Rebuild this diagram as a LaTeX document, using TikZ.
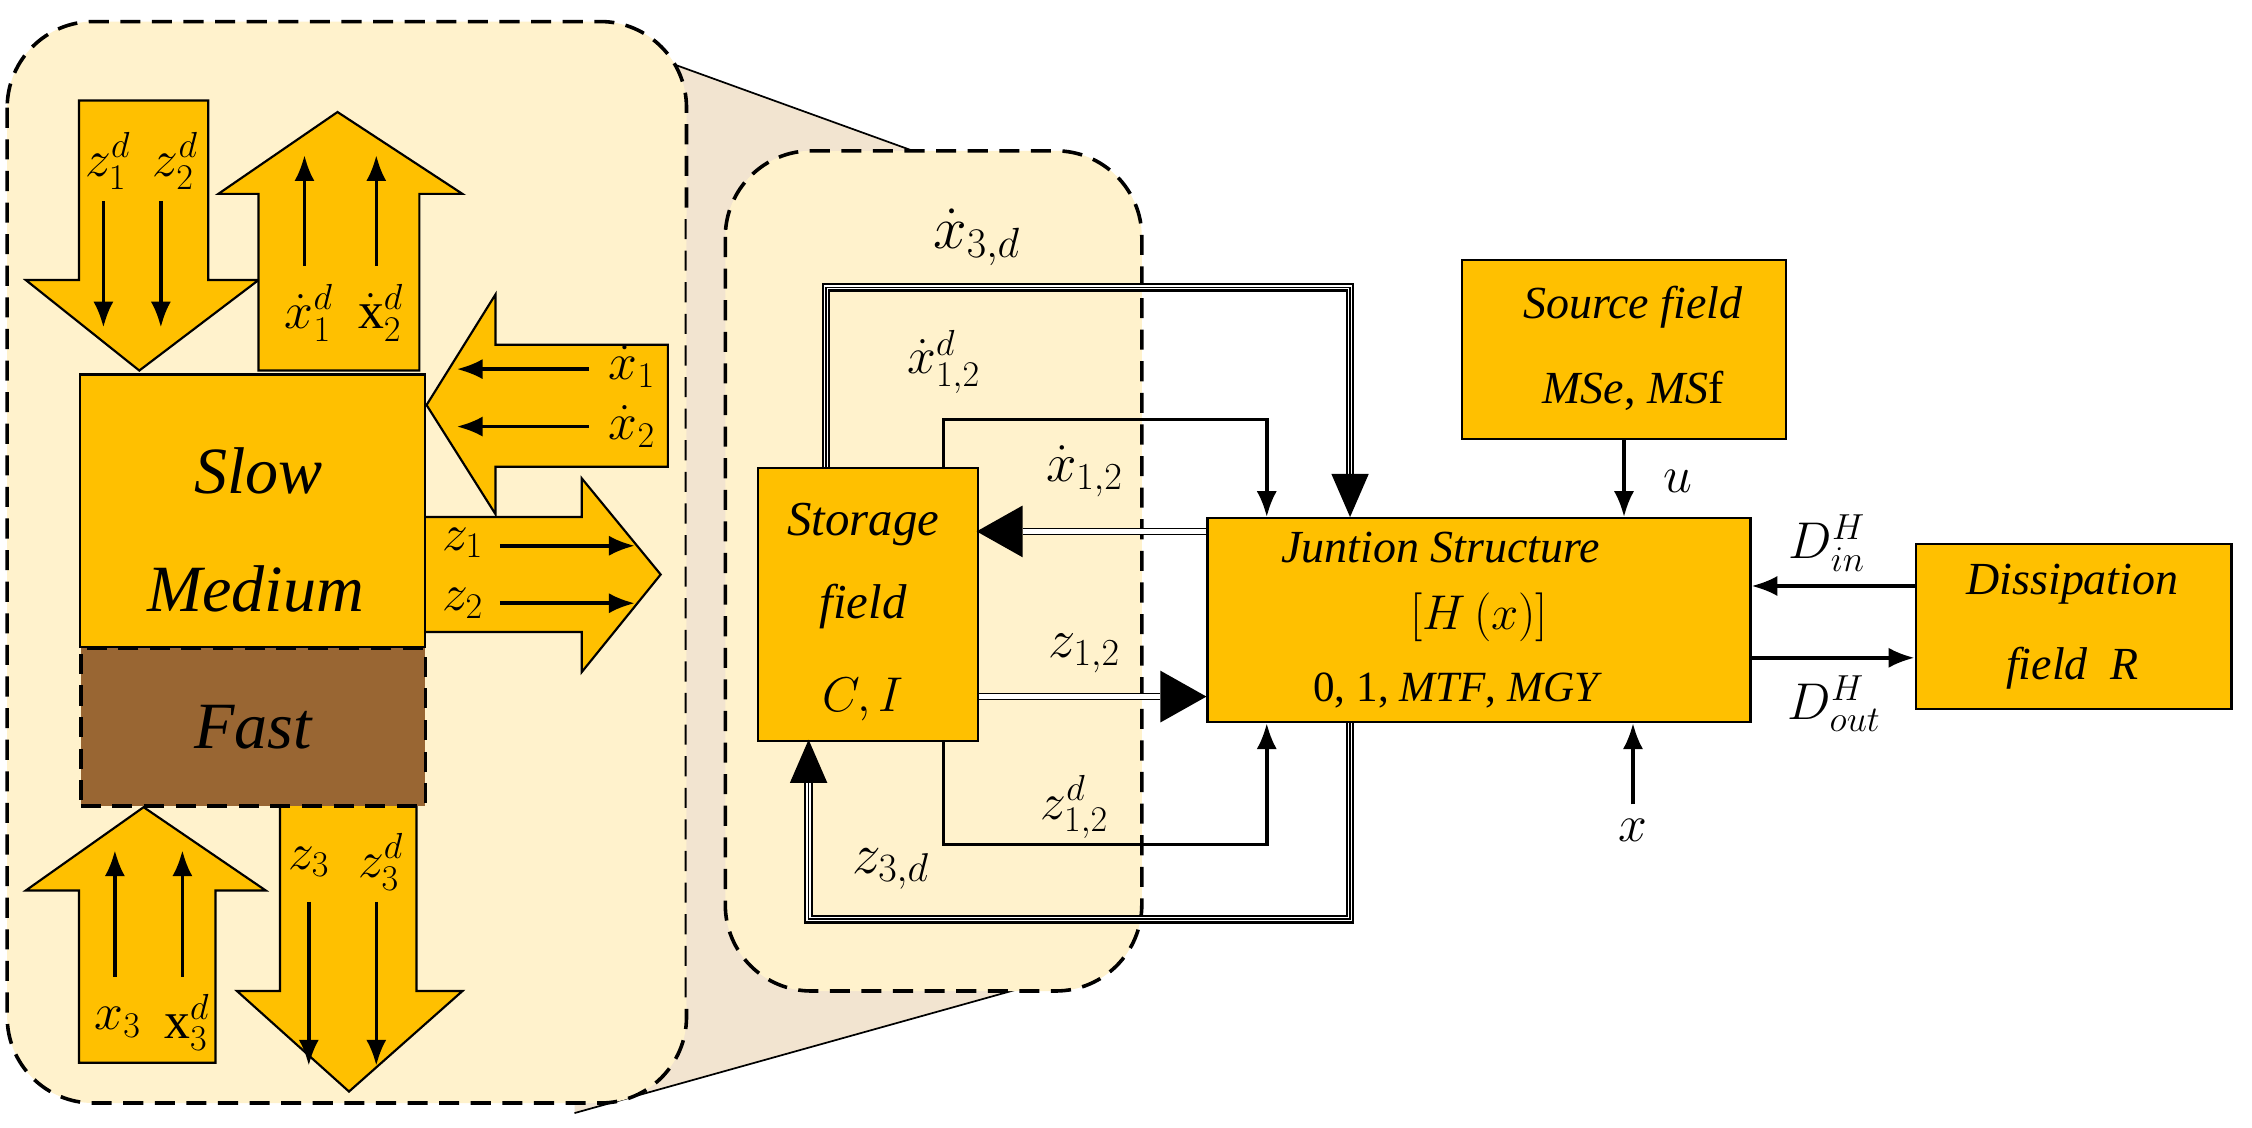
\RequirePackage{fix-cm}
\documentclass[tikz,border=0pt]{standalone}
\usepackage{fontspec}
\setmainfont{Liberation Serif}
\usetikzlibrary{arrows.meta}
\definecolor{lite}{RGB}{255,242,204}
\definecolor{wedge}{RGB}{242,228,208}
\definecolor{gold}{RGB}{255,192,0}
\definecolor{brn}{RGB}{153,102,51}
\newcommand{\fz}[1]{\fontsize{#1}{#1}\selectfont}
\begin{document}
\begin{tikzpicture}[x=1pt,y=-1pt,
  box/.style={draw,line width=1.5pt,fill=gold,inner sep=0},
  dsh/.style={line width=2.5pt,dash pattern=on 14pt off 8pt},
  dbox/.style={draw,dsh,rounded corners=60},
  blk/.style={draw,line width=1.5pt,fill=gold},
  thin/.style={line width=2.5pt,-{Latex[length=18,width=14]}},
  lab/.style={font=\fz{40}\itshape},
  ml/.style={font=\fz{36}},
  tri/.style={line width=6pt},
  trw/.style={line width=3pt,white},
  trc/.style={line width=1pt}]
\useasboundingbox (0,0) rectangle (1568,785);
% wedge
\fill[wedge] (420,27) -- (760,150) -- (740,680) -- (400,775) -- cycle;
\draw[line width=1.2pt] (420,27) -- (760,150) (400,775) -- (740,680);
\draw[dbox,fill=lite] (5,15) rectangle (478,768);
\fill[wedge] (478,150) -- (760,150) -- (740,680) -- (478,700) -- cycle;
\draw[dbox,fill=lite] (505,105) rectangle (795,690);
% left block arrows
\draw[blk] (55,70) -- (145,70) -- (145,195) -- (180,195) -- (97,258) -- (18,195) -- (55,195) -- cycle;
\draw[blk] (180,258) -- (180,135) -- (152,135) -- (235,78) -- (322,135) -- (292,135) -- (292,258) -- cycle;
\draw[blk] (465,240) -- (345,240) -- (345,205) -- (297,282) -- (345,358) -- (345,325) -- (465,325) -- cycle;
\draw[blk] (295,360) -- (405,360) -- (405,333) -- (460,400) -- (405,468) -- (405,440) -- (295,440) -- cycle;
\draw[blk] (55,740) -- (55,620) -- (18,620) -- (100,562) -- (185,620) -- (150,620) -- (150,740) -- cycle;
\draw[blk] (195,560) -- (290,560) -- (290,690) -- (322,690) -- (243,760) -- (165,690) -- (195,690) -- cycle;
\node[box,minimum width=240,minimum height=190,anchor=north west] (slow) at (55,260) {};
\node[lab,font=\fz{46}\itshape] at (180,328) {Slow};
\node[lab,font=\fz{46}\itshape] at (178,410) {Medium};
\node[draw,dsh,fill=brn,minimum width=240,minimum height=110,anchor=north west,font=\fz{46}\itshape] (fast) at (55,450) {Fast};
% labels and thin arrows on block arrows
\node[ml] at (75,112) {$z_1^d$}; \node[ml] at (122,112) {$z_2^d$};
\draw[thin] (72,140) -- (72,228); \draw[thin] (112,140) -- (112,228);
\node[ml] at (215,218) {$\dot x_1^d$}; \node[ml] at (265,218) {$\dot{\mathrm{x}}_2^d$};
\draw[thin] (212,185) -- (212,108); \draw[thin] (262,185) -- (262,108);
\node[ml] at (440,255) {$\dot x_1$}; \node[ml] at (440,297) {$\dot x_2$};
\draw[thin] (410,257) -- (318,257); \draw[thin] (410,297) -- (318,297);
\node[ml] at (322,378) {$z_1$}; \node[ml] at (322,420) {$z_2$};
\draw[thin] (348,380) -- (442,380); \draw[thin] (348,420) -- (442,420);
\node[ml] at (82,712) {$x_3$}; \node[ml] at (130,712) {$\mathrm{x}_3^d$};
\draw[thin] (80,680) -- (80,592); \draw[thin] (127,680) -- (127,592);
\node[ml] at (215,600) {$z_3$}; \node[ml] at (265,600) {$z_3^d$};
\draw[thin] (215,628) -- (215,742); \draw[thin] (262,628) -- (262,742);
% right part nodes
\node[box,minimum width=153,minimum height=190,anchor=north west] (st) at (527,325) {};
\node[lab,font=\fz{34}\itshape] at (601,365) {Storage};
\node[lab,font=\fz{34}\itshape] at (601,422) {field};
\node[ml,font=\fz{34}] at (601,487) {$C,I$};
\node[box,minimum width=378,minimum height=142,anchor=north west] (js) at (840,360) {};
\node[lab,font=\fz{32}\itshape] at (1003,381) {Juntion Structure};
\node[ml,font=\fz{34}] at (1030,430) {$\left[H\left(x\right)\right]$};
\node[font=\fz{30}] at (1015,481) {0, 1, \textit{MTF}, \textit{MGY}};
\node[box,minimum width=226,minimum height=125,anchor=north west] (src) at (1017,180) {};
\node[lab,font=\fz{32}\itshape] at (1137,214) {Source field};
\node[font=\fz{32}] at (1137,272) {\textit{MSe}, \textit{MS}f};
\node[box,minimum width=220,minimum height=115,anchor=north west] (dis) at (1333,378) {};
\node[lab,font=\fz{32}\itshape] at (1443,407) {Dissipation};
\node[lab,font=\fz{32}\itshape] at (1443,465) {field~~R};
% single arrows
\draw[thin] (src.south) -- (js.north -| src.south); \node[ml] at (1168,335) {$u$};
\coordinate (xs) at (1137,560);
\draw[thin] (xs) -- (js.south -| xs); \node[ml] at (1137,578) {$x$};
\draw[thin] (dis.west |- 0,408) -- (js.east |- 0,408); \node[ml] at (1272,378) {$D_{in}^H$};
\draw[thin] (js.east |- 0,458) -- (dis.west |- 0,458); \node[ml] at (1277,490) {$D_{out}^H$};
\draw[thin] (st.north -| 657,0) -- (657,292) -- (882,292) -- (js.north -| 882,0);
\draw[thin] (st.south -| 657,0) -- (657,588) -- (882,588) -- (js.south -| 882,0);
\node[ml] at (657,252) {$\dot x_{1,2}^d$};
\node[ml] at (748,562) {$z_{1,2}^d$};
% triple lines
\foreach \s in {tri,trw,trc}{
 \draw[\s] (st.north -| 575,0) -- (575,200) -- (940,200) -- (940,340);
 \draw[\s] (js.south -| 940,0) -- (940,640) -- (563,640) -- (563,535);}
\fill (927,330) -- (953,330) -- (940,360) -- cycle;
\fill (550,545) -- (576,545) -- (563,515) -- cycle;
\node[ml,font=\fz{42}] at (680,165) {$\dot x_{3,d}$};
\node[ml,font=\fz{40}] at (620,605) {$z_{3,d}$};
% double lines
\draw[double,double distance=3pt,line width=1.2pt] (js.west |- 0,370) -- (712,370);
\fill (712,352) -- (712,388) -- (680,370) -- cycle;
\draw[double,double distance=3pt,line width=1.2pt] (st.east |- 0,485) -- (808,485);
\fill (808,467) -- (808,503) -- (840,485) -- cycle;
\node[ml,font=\fz{38}] at (755,328) {$\dot x_{1,2}$};
\node[ml,font=\fz{38}] at (755,455) {$z_{1,2}$};
\end{tikzpicture}
\end{document}
